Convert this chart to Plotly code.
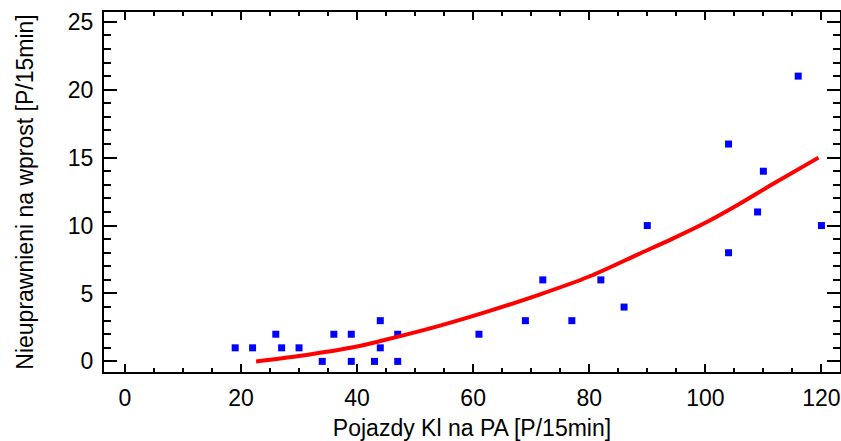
import plotly.graph_objects as go

# Observed data (blue squares)
obs_x = [19, 22, 26, 27, 30, 34, 36, 39, 39, 43, 44, 44, 47, 47,
         61, 69, 72, 77, 82, 86, 90, 104, 104, 109, 110, 116, 120]
obs_y = [1, 1, 2, 1, 1, 0, 2, 2, 0, 0, 3, 1, 2, 0,
         2, 3, 6, 3, 6, 4, 10, 16, 8, 11, 14, 21, 10]

# Fitted curve (red line)
fit_x = [22.6, 30, 40, 44, 54, 62.7, 71.3, 80, 88.5, 94.2, 100, 105.7, 111.4, 119.5]
fit_y = [0.0, 0.4, 1.1, 1.5, 2.6, 3.7, 4.9, 6.25, 7.9, 9.0, 10.2, 11.55, 13.0, 15.0]

x_title = "Pojazdy Kl na PA [P/15min]"
y_title = "Nieuprawnieni na wprost [P/15min]"

font_family = "Arial, Liberation Sans, sans-serif"
fs = 23

fig = go.Figure()
fig.add_trace(go.Scatter(
    x=obs_x, y=obs_y, mode="markers",
    marker=dict(symbol="square", size=7, color="#0000FF", line=dict(width=0)),
    showlegend=False,
))
fig.add_trace(go.Scatter(
    x=fit_x, y=fit_y, mode="lines",
    line=dict(color="#FF0000", width=4, shape="spline", smoothing=0.8),
    showlegend=False,
))

axis_common = dict(
    showline=True, linecolor="black", linewidth=2, mirror="ticks",
    showgrid=False, zeroline=False, ticks="inside", tickcolor="black",
    automargin=False,
    tickfont=dict(family=font_family, size=fs, color="black"),
)

fig.update_layout(
    width=841, height=441,
    margin=dict(l=104, r=1, t=12, b=69),
    paper_bgcolor="white", plot_bgcolor="white",
    font=dict(family=font_family, size=fs, color="black"),
    xaxis=dict(
        range=[-3.6, 123.2], tick0=0, dtick=20, ticklen=8, tickwidth=1.5,
        minor=dict(dtick=5, ticklen=4, ticks="inside", tickcolor="black", tickwidth=1.5),
        ticklabelstandoff=4,
        title=dict(text=x_title, font=dict(family=font_family, size=fs), standoff=11),
        **axis_common,
    ),
    yaxis=dict(
        range=[-0.78, 25.72], tick0=0, dtick=5, ticklen=13, tickwidth=1.5,
        minor=dict(dtick=1, ticklen=7, ticks="inside", tickcolor="black", tickwidth=1.5),
        ticklabelstandoff=4,
        title=dict(text=y_title, font=dict(family=font_family, size=fs), standoff=28),
        **axis_common,
    ),
)

fig.write_html(
    "out.html",
    config={"displayModeBar": False},
    post_script="document.body.style.margin='0';document.body.style.overflow='hidden';",
)
